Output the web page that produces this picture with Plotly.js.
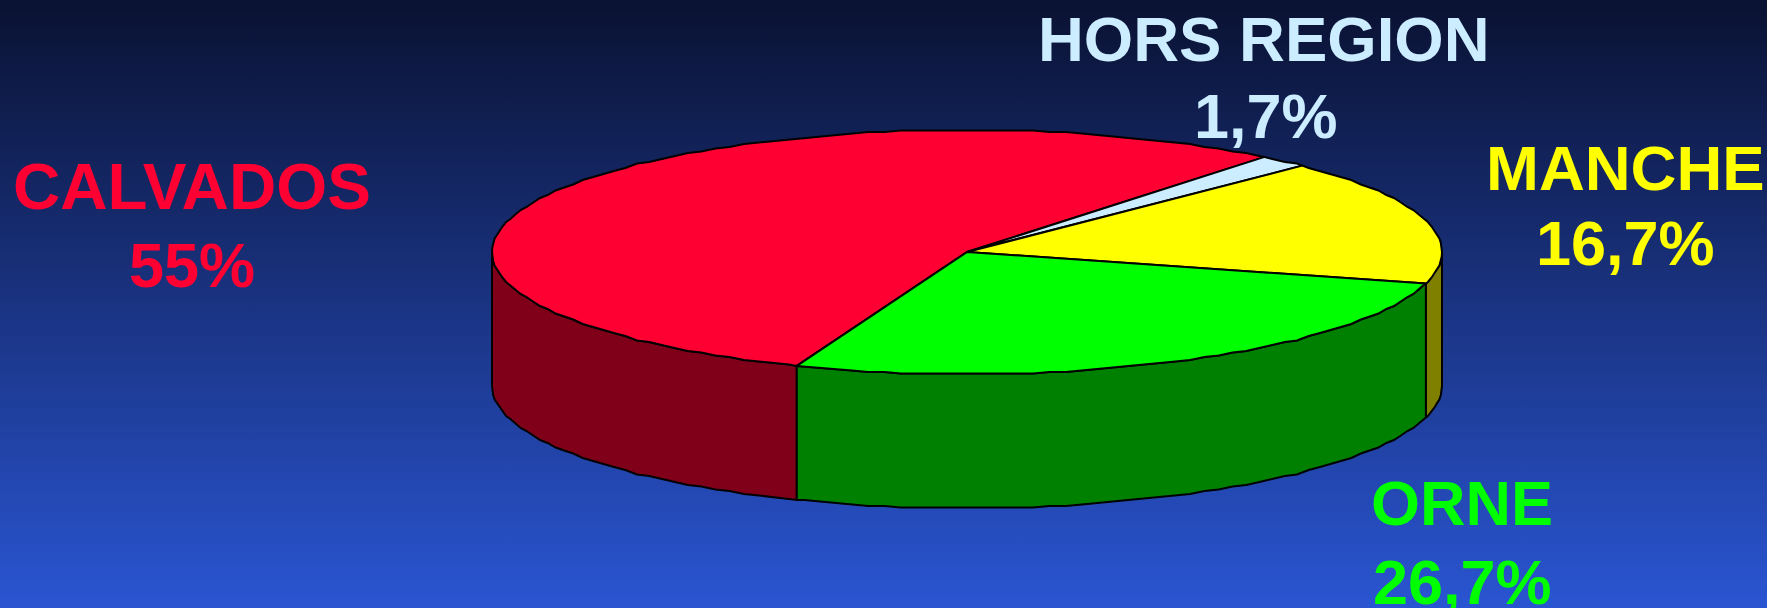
<!DOCTYPE html>
<html>
<head>
<meta charset="utf-8">
<script src="https://cdn.plot.ly/plotly-3.0.1.min.js"></script>
<style>
html,body{margin:0;padding:0;width:1767px;height:608px;overflow:hidden;
background:linear-gradient(to bottom,#0a1232 0%,#2a55d2 100%);}
#chart{width:1767px;height:608px;}
</style>
</head>
<body>
<div id="chart"></div>
<script>
// Data
const categories = ["CALVADOS", "HORS REGION", "MANCHE", "ORNE"];
const values = [55, 1.7, 16.7, 26.7];
const valueLabels = ["55%", "1,7%", "16,7%", "26,7%"];
// Styles
const topColors = ["#FF0033", "#CCECFF", "#FFFF00", "#00FF00"];
const sideColors = ["#800019", "#668099", "#808000", "#008000"];
const nameSizes = [65.5, 63.5, 63.5, 63];
// Geometry (axis units = pixels)
const cx = 967, cy = 252, rx = 475, ry = 122, depth = 134, startDeg = 249;
const facetDeg = 2, snapY = 1.5;
const nameX = [192, 1264, 1625, 1462], nameY = [186, 39, 168, 503];
const valueX = [192, 1266, 1625, 1462], valueY = [265, 116, 243, 582];

const total = values.reduce((a, b) => a + b, 0);
const px = t => cx + rx * Math.cos(t * Math.PI / 180);
const py = t => cy - ry * Math.sin(t * Math.PI / 180);
// Faceted rim, like the polygon outline of the original drawing
function arc(a, b, dz) {
  const dir = b > a ? 1 : -1;
  const ts = [a];
  let t = dir > 0 ? (Math.floor(a / facetDeg) + 1) * facetDeg : (Math.ceil(a / facetDeg) - 1) * facetDeg;
  while (dir > 0 ? t < b : t > b) { ts.push(t); t += dir * facetDeg; }
  ts.push(b);
  const xs = ts.map(px);
  const ys = ts.map((v, i) => (i === 0 || i === ts.length - 1 ? py(v) : Math.round(py(v) / snapY) * snapY) + dz);
  return [xs, ys];
}
const line = {color: "#000000", width: 2};
const base = {type: "scatter", mode: "lines", fill: "toself", line, hoverinfo: "skip", showlegend: false};
const walls = [], tops = [];
let cur = startDeg;
values.forEach((v, i) => {
  const end = cur - v / total * 360;
  // Front wall: only the part of the slice that faces the viewer (180..360 deg)
  for (const [lo, hi] of [[180, 360], [-180, 0]]) {
    const a = Math.min(cur, hi), b = Math.max(end, lo);
    if (a > b) {
      const [x1, y1] = arc(a, b, 0), [x2, y2] = arc(b, a, depth);
      walls.push(Object.assign({}, base, {name: categories[i] + " side",
        x: x1.concat(x2, [x1[0]]), y: y1.concat(y2, [y1[0]]), fillcolor: sideColors[i]}));
    }
  }
  const [x, y] = arc(cur, end, 0);
  tops.push(Object.assign({}, base, {name: categories[i],
    x: [cx].concat(x, [cx]), y: [cy].concat(y, [cy]), fillcolor: topColors[i]}));
  cur = end;
});

const font = (c, s) => ({family: "Liberation Sans, Arial, sans-serif", size: s, weight: 700, color: c});
const annotations = [];
categories.forEach((c, i) => {
  annotations.push({x: nameX[i], y: nameY[i], text: c, showarrow: false, xanchor: "center", yanchor: "middle", font: font(topColors[i], nameSizes[i])});
  annotations.push({x: valueX[i], y: valueY[i], text: valueLabels[i], showarrow: false, xanchor: "center", yanchor: "middle", font: font(topColors[i], 63)});
});
const hidden = {visible: false, fixedrange: true};
Plotly.newPlot("chart", walls.concat(tops), {
  width: 1767, height: 608,
  margin: {l: 0, r: 0, t: 0, b: 0},
  paper_bgcolor: "rgba(0,0,0,0)", plot_bgcolor: "rgba(0,0,0,0)",
  xaxis: Object.assign({range: [0, 1767]}, hidden),
  yaxis: Object.assign({range: [608, 0]}, hidden),
  annotations
}, {displayModeBar: false, staticPlot: true});
</script>
</body>
</html>
